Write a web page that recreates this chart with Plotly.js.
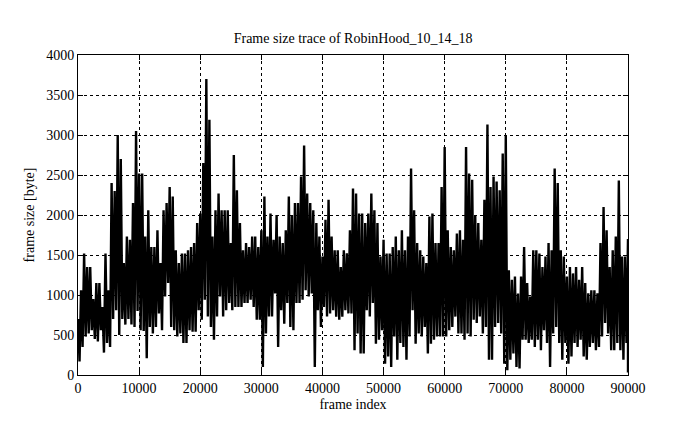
<!DOCTYPE html>
<html>
<head>
<meta charset="utf-8">
<script src="https://cdn.plot.ly/plotly-3.0.1.min.js"></script>
<style>html,body{margin:0;padding:0;background:#fff;}#chart{width:695px;height:429px;}</style>
</head>
<body>
<div id="chart"></div>
<script>
// Frame-size trace, read per 500-frame column as local max (hi) and local min (lo), bytes
const columnStep = 500;
const hi = [
  700,1060,1520,1350,1350,950,1150,1150,850,1520,
  1060,2400,2300,3000,2700,1400,1730,1690,2150,3050,
  2520,2520,1730,2060,1600,1600,1810,1400,2060,2150,
  2350,2230,1560,1400,1520,1520,1560,1600,1650,1900,
  2020,2650,3700,3190,1730,2060,2270,2060,2060,2060,
  1650,2750,2310,1900,1560,1650,1600,1730,1730,1600,
  1810,2230,1730,2020,1690,2000,1730,1650,1810,2230,
  2000,2150,2150,2480,2870,2270,2150,2060,1900,1730,
  1480,1940,2190,1730,1560,1560,1350,1560,1520,1810,
  2330,2270,2020,2020,1900,2020,2270,2060,1900,1480,
  1690,1520,1520,1600,1730,1560,1810,1560,1730,2580,
  2060,1650,1560,1480,1400,1980,2020,1650,1650,2350,
  2850,1810,1600,1560,1770,1810,1690,2850,2520,2440,
  2000,1900,1690,2190,3130,2350,2480,2420,2310,2770,
  2990,1310,1190,1230,1020,1230,1600,1150,980,1560,
  1560,1520,1350,1480,1650,1560,2580,2400,1560,1480,
  1230,1350,1270,1350,1190,1350,1150,1020,1060,1060,
  1020,1650,2100,1810,1350,1560,1730,2430,1480,1480,
  1700
];
const lo = [
  170,350,480,520,560,450,420,560,280,400,
  350,700,810,500,700,630,700,630,600,800,
  560,550,210,600,520,600,770,560,980,1150,
  600,560,480,520,400,400,560,540,540,810,
  690,940,730,600,440,730,980,730,810,900,
  810,850,850,850,900,900,940,850,690,690,
  100,520,730,730,1020,350,810,640,900,600,
  560,900,900,940,1060,980,1020,100,810,600,
  850,730,770,810,730,690,730,810,770,770,
  310,520,270,270,810,730,900,390,440,560,
  140,230,100,480,190,400,350,190,480,810,
  390,520,480,600,270,390,440,480,480,480,
  480,560,600,730,520,520,440,520,480,690,
  650,730,520,600,190,190,600,650,520,140,
  60,190,270,100,80,440,440,400,440,350,
  440,310,560,400,100,520,600,400,190,400,
  140,230,400,350,440,230,190,350,400,310,
  350,480,650,520,310,310,400,310,190,400,
  30
];

const xs = [], ys = [];
for (let i = 0; i < hi.length; i++) {
  xs.push(i * columnStep); ys.push(hi[i]);
  if (i < hi.length - 1) { xs.push(i * columnStep + columnStep / 2); ys.push(lo[i]); }
  else { xs.push(i * columnStep); ys.push(lo[i]); }
}

const serif = "'Liberation Serif', 'DejaVu Serif', serif";
const trace = {
  x: xs, y: ys, type: 'scatter', mode: 'lines',
  line: {color: '#000', width: 2.4}, hoverinfo: 'skip'
};
const axisCommon = {
  showline: true, linecolor: '#000', linewidth: 1, mirror: 'allticks',
  ticks: 'inside', ticklen: 5, tickcolor: '#000', tickwidth: 1,
  showgrid: true, gridcolor: '#000', gridwidth: 1, griddash: 'dot',
  zeroline: false, tickformat: 'd',
  tickfont: {family: serif, size: 14, color: '#000'}
};
const layout = {
  width: 695, height: 429,
  margin: {l: 78, r: 67, t: 55, b: 54},
  paper_bgcolor: '#fff', plot_bgcolor: '#fff',
  showlegend: false,
  title: {text: 'Frame size trace of RobinHood_10_14_18', font: {family: serif, size: 14, color: '#000'},
          x: 0.508, xanchor: 'center', y: 0.911, yanchor: 'middle', yref: 'container'},
  xaxis: Object.assign({}, axisCommon, {range: [0, 90000], dtick: 10000, tick0: 0,
          title: {text: 'frame index', font: {family: serif, size: 14, color: '#000'}, standoff: 4}}),
  yaxis: Object.assign({}, axisCommon, {range: [0, 4000], dtick: 500, tick0: 0,
          title: {text: 'frame size [byte]', font: {family: serif, size: 14, color: '#000'}, standoff: 8}})
};
Plotly.newPlot('chart', [trace], layout, {staticPlot: true, displayModeBar: false});
</script>
</body>
</html>
